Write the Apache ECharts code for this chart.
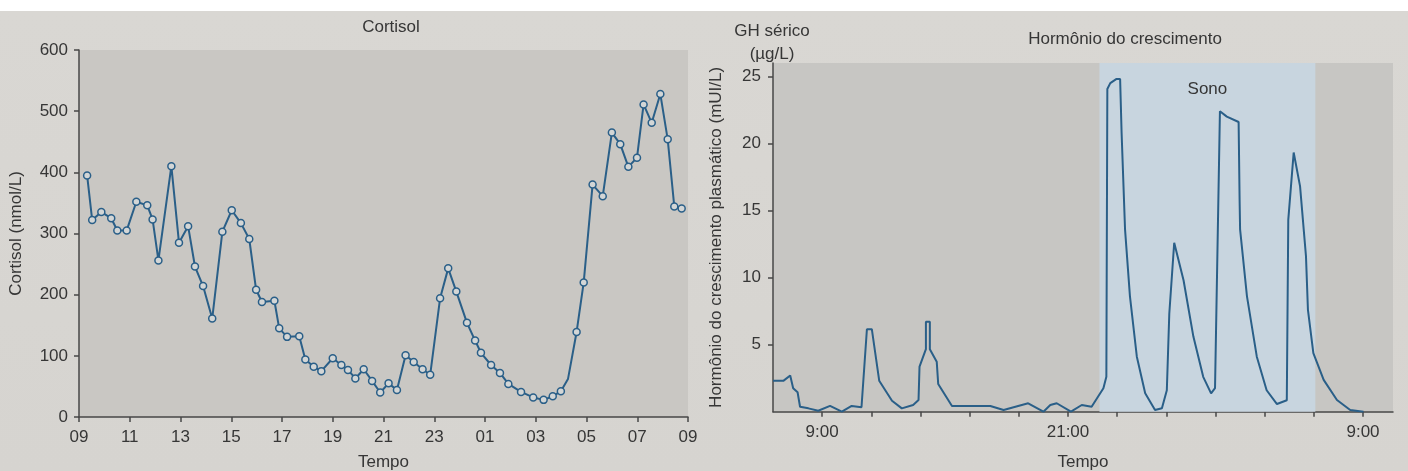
<!DOCTYPE html>
<html>
<head>
<meta charset="utf-8">
<script src="https://cdn.jsdelivr.net/npm/echarts@6/dist/echarts.min.js"></script>
<style>
html, body { margin: 0; padding: 0; }
body { background: linear-gradient(to bottom, #ffffff 0px, #ffffff 11px, #d9d7d3 11px, #d6d4d0 100%); }
#chart { width: 1408px; height: 471px; }
</style>
</head>
<body>
<div id="chart"></div>
<script>
// ---- Cortisol (left panel) ----
const cortisolHours = [9.32, 9.52, 9.88, 10.27, 10.51, 10.88, 11.26, 11.69, 11.90, 12.13,
  12.64, 12.94, 13.30, 13.57, 13.89, 14.25, 14.65, 15.02, 15.38, 15.71,
  15.98, 16.21, 16.70, 16.89, 17.20, 17.68, 17.92, 18.25, 18.55, 19.00,
  19.34, 19.60, 19.89, 20.22, 20.55, 20.87, 21.20, 21.53, 21.87, 22.19,
  22.54, 22.84, 23.23, 23.55, 23.87, 24.29, 24.61, 24.84, 25.24, 25.59,
  25.92, 26.42, 26.90, 27.31, 27.67, 27.99, 28.27, 28.61, 28.89, 29.24,
  29.64, 30.00, 30.33, 30.65, 30.99, 31.25, 31.57, 31.91, 32.20, 32.46, 32.75];
const cortisolValues = [395, 322, 335, 325, 305, 305, 352, 346, 323, 256,
  410, 285, 312, 246, 214, 161, 303, 338, 317, 291,
  208, 188, 190, 145, 131, 132, 94, 82, 75, 96,
  85, 77, 63, 78, 59, 40, 55, 44, 101, 90,
  78, 69, 194, 243, 205, 154, 125, 105, 85, 72,
  54, 41, 32, 28, 34, 42, 62, 139, 220, 380,
  361, 465, 446, 409, 424, 511, 481, 528, 454, 344, 341];
const cortisolUnmarked = [56]; // bend of the line without a sample marker
const cortisolTicks = [9, 11, 13, 15, 17, 19, 21, 23, 25, 27, 29, 31, 33];

// ---- Growth hormone (right panel) ----
// x in axis-tick units (tick 1 = "9:00", tick 6 = "21:00", tick 12 = "9:00")
const ghX = [0, 0.21, 0.35, 0.41, 0.50, 0.55, 0.72, 0.92, 1.16, 1.40,
  1.60, 1.80, 1.91, 2.01, 2.16, 2.42, 2.62, 2.85, 2.96, 2.98,
  3.11, 3.11, 3.19, 3.19, 3.33, 3.36, 3.64, 4.42, 4.69, 5.19,
  5.50, 5.64, 5.77, 6.06, 6.28, 6.48, 6.72, 6.78, 6.80, 6.86,
  6.98, 7.06, 7.09, 7.16, 7.26, 7.40, 7.57, 7.77, 7.91, 8.01,
  8.06, 8.16, 8.35, 8.55, 8.75, 8.91, 8.99, 9.09, 9.23, 9.47,
  9.49, 9.50, 9.64, 9.84, 10.04, 10.25, 10.45, 10.48, 10.59, 10.72,
  10.84, 10.88, 10.99, 11.20, 11.47, 11.74, 12.01];
const ghValues = [2.3, 2.3, 2.7, 1.75, 1.45, 0.37, 0.25, 0.07, 0.43, 0.0,
  0.43, 0.33, 6.15, 6.15, 2.31, 0.82, 0.25, 0.5, 0.87, 3.36,
  4.66, 6.7, 6.7, 4.66, 3.73, 2.07, 0.43, 0.43, 0.13, 0.63,
  0.0, 0.5, 0.63, 0.0, 0.5, 0.37, 1.75, 2.6, 24.06, 24.5,
  24.8, 24.8, 20.8, 13.6, 8.6, 4.1, 1.37, 0.13, 0.25, 1.6,
  7.3, 12.6, 9.8, 5.6, 2.6, 1.37, 1.75, 22.4, 22.0, 21.6,
  15.8, 13.6, 8.6, 4.1, 1.6, 0.57, 0.85, 14.3, 19.33, 16.8,
  11.6, 7.6, 4.36, 2.37, 0.87, 0.13, 0.0];
const ghTickPositions = [1, 2, 3, 4, 5, 6, 7, 8, 9, 10, 11, 12];
const ghTickLabels = {1: '9:00', 6: '21:00', 12: '9:00'};
const ghYTicks = [5, 10, 15, 20, 25];
const sleepStart = 6.64, sleepEnd = 11.03;

const FONT = 'Liberation Sans';
const TXT = '#363636';
const LINE = '#2a5f88';
const AX = '#474747';

const chart = echarts.init(document.getElementById('chart'), null, {renderer: 'canvas'});

const cortData = cortisolHours.map((h, i) =>
  cortisolUnmarked.includes(i) ? {value: [h, cortisolValues[i]], symbol: 'none'} : [h, cortisolValues[i]]);
const ghData = ghX.map((x, i) => [x, ghValues[i]]);

const axisCommon = {
  axisLine: {show: true, lineStyle: {color: AX, width: 1.5}},
  axisTick: {show: true, length: 5, lineStyle: {color: AX, width: 1.5}},
  splitLine: {show: false},
  nameTextStyle: {fontFamily: FONT, fontSize: 17, color: TXT},
};

chart.setOption({
  animation: false,
  backgroundColor: 'transparent',
  textStyle: {fontFamily: FONT},
  title: [
    {text: 'Cortisol', left: 386, top: 14, textAlign: 'center',
     textStyle: {fontFamily: FONT, fontSize: 17, fontWeight: 'normal', color: TXT}},
    {text: 'Hormônio do crescimento', left: 1120, top: 26, textAlign: 'center',
     textStyle: {fontFamily: FONT, fontSize: 17, fontWeight: 'normal', color: TXT}},
    {text: 'GH sérico\n(µg/L)', left: 767, top: 15, textAlign: 'center',
     textStyle: {fontFamily: FONT, fontSize: 17, fontWeight: 'normal', color: TXT, lineHeight: 23}}
  ],
  grid: [
    {left: 79, top: 50, width: 609, height: 367, show: true, backgroundColor: '#c9c7c3', borderWidth: 0, outerBoundsMode: 'none'},
    {left: 773, top: 63, width: 620, height: 348.7, show: true, backgroundColor: '#c7c6c3', borderWidth: 0, outerBoundsMode: 'none'}
  ],
  xAxis: [
    Object.assign({}, axisCommon, {
      gridIndex: 0, type: 'value', min: 9, max: 33, interval: 2,
      name: 'Tempo', nameLocation: 'middle', nameGap: 37,
      axisLabel: {customValues: cortisolTicks, margin: 12, fontFamily: FONT, fontSize: 17, color: TXT,
        formatter: v => String(Math.round(v) % 24).padStart(2, '0')},
      axisTick: {show: true, length: 5, customValues: cortisolTicks, lineStyle: {color: AX, width: 1.5}}
    }),
    Object.assign({}, axisCommon, {
      gridIndex: 1, type: 'value', min: 0, max: 12.61, interval: 1,
      name: 'Tempo', nameLocation: 'middle', nameGap: 42,
      axisLabel: {customValues: [1, 6, 12], margin: 12, fontFamily: FONT, fontSize: 17, color: TXT,
        formatter: v => ghTickLabels[Math.round(v)] || ''},
      axisTick: {show: true, length: 5, customValues: ghTickPositions, lineStyle: {color: AX, width: 1.5}}
    })
  ],
  yAxis: [
    Object.assign({}, axisCommon, {
      gridIndex: 0, type: 'value', min: 0, max: 600, interval: 100,
      name: 'Cortisol (nmol/L)', nameLocation: 'middle', nameGap: 54,
      axisLabel: {margin: 11, fontFamily: FONT, fontSize: 17, color: TXT}
    }),
    Object.assign({}, axisCommon, {
      gridIndex: 1, type: 'value', min: 0, max: 26, interval: 5,
      name: 'Hormônio do crescimento plasmático (mUI/L)', nameLocation: 'middle', nameGap: 48,
      axisLabel: {customValues: ghYTicks, margin: 12, fontFamily: FONT, fontSize: 17, color: TXT},
      axisTick: {show: true, length: 5, customValues: ghYTicks, lineStyle: {color: AX, width: 1.5}}
    })
  ],
  series: [
    {
      type: 'line', xAxisIndex: 0, yAxisIndex: 0, data: cortData,
      symbol: 'circle', symbolSize: 7, showAllSymbol: true,
      lineStyle: {color: LINE, width: 2},
      itemStyle: {color: '#d3d6d6', borderColor: LINE, borderWidth: 1.5},
      z: 3
    },
    {
      type: 'line', xAxisIndex: 1, yAxisIndex: 1, data: ghData,
      symbol: 'none',
      lineStyle: {color: LINE, width: 2},
      markArea: {
        silent: true,
        itemStyle: {color: '#c8d5df'},
        label: {show: true, position: 'insideTop', distance: 18, fontFamily: FONT, fontSize: 17, color: TXT},
        data: [[{xAxis: sleepStart, name: 'Sono'}, {xAxis: sleepEnd}]]
      },
      z: 3
    }
  ]
});
</script>
</body>
</html>
